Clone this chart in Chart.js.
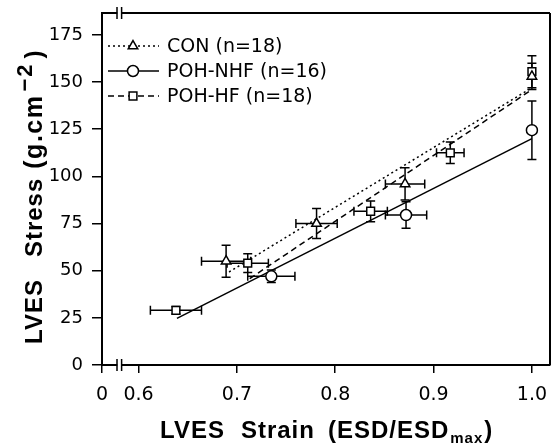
<!DOCTYPE html>
<html>
<head>
<meta charset="utf-8">
<script src="https://cdn.jsdelivr.net/npm/chart.js@4"></script>
<style>
  body { margin: 0; background: #fff; }
  canvas { display: block; }
</style>
</head>
<body>
<canvas id="grafico" width="557" height="444"></canvas>
<script>
// Valores
var conX = [0.689, 0.781, 0.871, 1.0];
var conY = [55, 75, 96, 153];
var conXErr = [0.025, 0.021, 0.020, 0];
var conYErr = [8.5, 8, 8.5, 7];

var nhfX = [0.735, 0.872, 1.0];
var nhfY = [47, 79.5, 124.5];
var nhfXErr = [0.024, 0.021, 0];
var nhfYErr = [3.3, 7, 15.5];

var hfX = [0.638, 0.711, 0.836, 0.917, 1.0];
var hfY = [29, 54, 81.5, 112.5, 155.5];
var hfXErr = [0.026, 0.021, 0.017, 0.014, 0];
var hfYErr = [2, 5, 5.5, 5.7, 8.5];

// Retas de regressão (extremos)
var conFitX = [0.692, 1.0];
var conFitY = [49.3, 147];
var nhfFitX = [0.639, 1.0];
var nhfFitY = [24.7, 120];
var hfFitX = [0.713, 1.0];
var hfFitY = [45.8, 146];

var xTicks = [0.6, 0.7, 0.8, 0.9, 1.0];
var yTicks = [0, 25, 50, 75, 100, 125, 150, 175];
var xZero = 0.5628;   // onde fica o "0" antes da quebra do eixo
var xBreak = 0.5804;  // quebra do eixo x
var legendLabels = ['CON (n=18)', 'POH-NHF (n=16)', 'POH-HF (n=18)'];

function pontos(xs, ys) {
    return xs.map(function(x, i) { return { x: x, y: ys[i] }; });
}

// Barras de erro desenhadas antes dos marcadores
var barrasErro = {
    id: 'barrasErro',
    beforeDatasetsDraw: function(chart) {
        var ctx = chart.ctx, sx = chart.scales.x, sy = chart.scales.y;
        var grupos = [
            [conX, conY, conXErr, conYErr],
            [nhfX, nhfY, nhfXErr, nhfYErr],
            [hfX, hfY, hfXErr, hfYErr]
        ];
        var cap = 4.5;
        ctx.save();
        ctx.strokeStyle = '#000';
        ctx.lineWidth = 1.5;
        grupos.forEach(function(g) {
            for (var i = 0; i < g[0].length; i++) {
                var px = sx.getPixelForValue(g[0][i]);
                var py = sy.getPixelForValue(g[1][i]);
                ctx.beginPath();
                if (g[2][i] > 0) {
                    var x1 = sx.getPixelForValue(g[0][i] - g[2][i]);
                    var x2 = sx.getPixelForValue(g[0][i] + g[2][i]);
                    ctx.moveTo(x1, py); ctx.lineTo(x2, py);
                    ctx.moveTo(x1, py - cap); ctx.lineTo(x1, py + cap);
                    ctx.moveTo(x2, py - cap); ctx.lineTo(x2, py + cap);
                }
                if (g[3][i] > 0) {
                    var y1 = sy.getPixelForValue(g[1][i] - g[3][i]);
                    var y2 = sy.getPixelForValue(g[1][i] + g[3][i]);
                    ctx.moveTo(px, y1); ctx.lineTo(px, y2);
                    ctx.moveTo(px - cap, y1); ctx.lineTo(px + cap, y1);
                    ctx.moveTo(px - cap, y2); ctx.lineTo(px + cap, y2);
                }
                ctx.stroke();
            }
        });
        ctx.restore();
    }
};

// escreve um título em pedaços encadeados:
// [texto, fonte, deslocamento vertical, espaço antes, espaçamento entre letras]
function titulo(ctx, inicio, partes) {
    var x = inicio;
    partes.forEach(function(p) {
        x += p[3];
        ctx.font = p[1];
        ctx.letterSpacing = p[4] + 'px';
        ctx.fillText(p[0], x, p[2]);
        x += ctx.measureText(p[0]).width;
    });
}

// Moldura, quebras de eixo, legenda e títulos
var extras = {
    id: 'extras',
    afterDraw: function(chart) {
        var ctx = chart.ctx, a = chart.chartArea, sx = chart.scales.x;
        ctx.save();
        ctx.strokeStyle = '#000';
        ctx.lineWidth = 2;
        ctx.beginPath();
        ctx.moveTo(a.left, a.top); ctx.lineTo(a.right, a.top);
        ctx.moveTo(a.right, a.top); ctx.lineTo(a.right, a.bottom);
        ctx.stroke();

        var bx = sx.getPixelForValue(xBreak);
        [a.top, a.bottom].forEach(function(y) {
            ctx.fillStyle = '#fff';
            ctx.fillRect(bx - 2, y - 2, 4, 4);
            ctx.lineWidth = 1.5;
            ctx.beginPath();
            ctx.moveTo(bx - 2.3, y - 6); ctx.lineTo(bx - 2.3, y + 6);
            ctx.moveTo(bx + 2.3, y - 6); ctx.lineTo(bx + 2.3, y + 6);
            ctx.stroke();
        });

        // legenda
        var estilos = [
            { dash: [2, 3], ponto: 'triangle' },
            { dash: [], ponto: 'circle' },
            { dash: [6, 4], ponto: 'rect' }
        ];
        ctx.font = '19px "DejaVu Sans"';
        ctx.textBaseline = 'middle';
        ctx.textAlign = 'left';
        legendLabels.forEach(function(txt, i) {
            var y = 46 + i * 25;
            ctx.strokeStyle = '#000';
            ctx.lineWidth = 1.5;
            ctx.setLineDash(estilos[i].dash);
            ctx.beginPath();
            ctx.moveTo(108, y); ctx.lineTo(159, y);
            ctx.stroke();
            ctx.setLineDash([]);
            ctx.fillStyle = '#fff';
            Chart.helpers.drawPoint(ctx, { pointStyle: estilos[i].ponto, radius: 5.5, rotation: 0, borderWidth: 1.5 }, 133, y);
            ctx.fillStyle = '#000';
            ctx.fillText(txt, 167, y + 1);
        });

        // títulos dos eixos
        var fonte = 'bold 24px "Liberation Sans"';
        ctx.fillStyle = '#000';
        ctx.textBaseline = 'alphabetic';
        titulo(ctx, 160, [
            ['LVES', fonte, 438, 0, 1],
            ['Strain', fonte, 438, 16, 1],
            ['(ESD/ESD', fonte, 438, 13, 1],
            ['max', 'bold 15px "Liberation Sans"', 443, 1, 1],
            [')', fonte, 438, 1, 1]
        ]);

        ctx.translate(42, 0);
        ctx.rotate(-Math.PI / 2);
        titulo(ctx, -344, [
            ['LVES', fonte, 0, 0, 1],
            ['Stress', fonte, 0, 22, 1],
            ['(g.cm', 'bold 25px "Liberation Sans"', 0, 9, 1.5],
            ['\u22122', 'bold 22px "Liberation Sans"', -10, 3, 2],
            [')', fonte, 0, 4, 1]
        ]);
        ctx.restore();
    }
};

var ctx = document.getElementById('grafico').getContext('2d');
Chart.defaults.font.family = '"DejaVu Sans"';
Chart.defaults.color = '#000';

new Chart(ctx, {
    type: 'scatter',
    data: {
        datasets: [
            { label: legendLabels[0], data: pontos(conX, conY), pointStyle: 'triangle', pointRadius: 5.5,
              backgroundColor: '#fff', borderColor: '#000', borderWidth: 1.5 },
            { label: legendLabels[1], data: pontos(nhfX, nhfY), pointStyle: 'circle', pointRadius: 5.5,
              backgroundColor: '#fff', borderColor: '#000', borderWidth: 1.5 },
            { label: legendLabels[2], data: pontos(hfX, hfY), pointStyle: 'rect', pointRadius: 5.5,
              backgroundColor: '#fff', borderColor: '#000', borderWidth: 1.5 },
            { data: pontos(conFitX, conFitY), showLine: true, pointRadius: 0, borderColor: '#000',
              borderWidth: 1.5, borderDash: [2, 3] },
            { data: pontos(nhfFitX, nhfFitY), showLine: true, pointRadius: 0, borderColor: '#000',
              borderWidth: 1.5 },
            { data: pontos(hfFitX, hfFitY), showLine: true, pointRadius: 0, borderColor: '#000',
              borderWidth: 1.5, borderDash: [6, 4] }
        ]
    },
    options: {
        responsive: false,
        animation: false,
        layout: { padding: { top: 13, right: 2, left: 0, bottom: 0 } },
        plugins: { legend: { display: false }, tooltip: { enabled: false } },
        scales: {
            x: {
                type: 'linear',
                min: xZero,
                max: 1.0184,
                afterBuildTicks: function(scale) {
                    scale.ticks = [xZero].concat(xTicks).map(function(v) { return { value: v }; });
                },
                afterFit: function(scale) {
                    scale.height = 79;
                    scale.paddingLeft = 0;
                    scale.paddingRight = 0;
                },
                ticks: {
                    font: { size: 19 },
                    padding: 11,
                    callback: function(v) { return v === xZero ? '0' : v.toFixed(1); }
                },
                grid: { drawOnChartArea: false, color: '#000', lineWidth: 1.5, tickLength: 8 },
                border: { color: '#000', width: 2 }
            },
            y: {
                min: 0,
                max: 186.6,
                afterBuildTicks: function(scale) {
                    scale.ticks = yTicks.map(function(v) { return { value: v }; });
                },
                afterFit: function(scale) {
                    scale.width = 102;
                    scale.paddingTop = 0;
                    scale.paddingBottom = 0;
                },
                ticks: { font: { size: 18 }, padding: 9 },
                grid: { drawOnChartArea: false, color: '#000', lineWidth: 1.5, tickLength: 10 },
                border: { color: '#000', width: 2 }
            }
        }
    },
    plugins: [barrasErro, extras]
});
</script>
</body>
</html>
